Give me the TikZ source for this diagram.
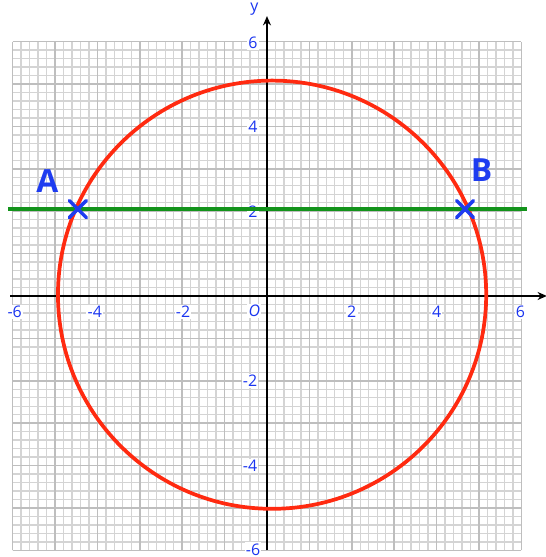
\documentclass[tikz,border=0pt]{standalone}
\usepackage{fontspec}
\setmainfont{Open Sans}
\usetikzlibrary{arrows.meta}
\definecolor{minorg}{HTML}{D4D4D4}
\definecolor{majorg}{HTML}{BEBEBE}
\definecolor{tickblue}{HTML}{1A35F0}
\definecolor{crossblue}{HTML}{1E3CF0}
\definecolor{circred}{HTML}{FF2A10}
\definecolor{linegreen}{HTML}{13931B}
\tikzset{
  ticklab/.style={text=tickblue, fill=white, inner sep=1pt, font=\fontsize{12}{12}\selectfont},
  ptlab/.style={text=crossblue, font=\fontsize{24}{24}\selectfont\bfseries},
  cross/.style={draw=crossblue, line width=2.6pt, line cap=round},
  axis/.style={draw=black, line width=1.1pt, -{Stealth[length=7pt,width=6pt]}}
}
\begin{document}
\begin{tikzpicture}[x=1.0cm,y=1.0cm,scale=1.1218]
\useasboundingbox (-6.297,-6.156) rectangle (6.58,6.981);
% grid
\draw[minorg, line width=1.0pt, step=0.2] (-6,-6) grid (6,6);
\draw[majorg, line width=1.3pt, step=1] (-6,-6) grid (6,6);
% axes
\coordinate (xs) at (-6.05,0);
\coordinate (xe) at (6.6,0);
\coordinate (ys) at (0,-6);
\coordinate (ye) at (0,6.6);
\draw[axis] (xs) -- (xe);
\draw[axis] (ys) -- (ye);
\node[text=tickblue, font=\fontsize{12}{12}\selectfont] (ylab) at (-0.3,6.76) {y};
\node[text=tickblue, font=\fontsize{12}{12}\selectfont] (xlab) at (6.68,-0.37) {x};
% tick labels
\node[ticklab] (x6m) at (-5.95,-0.38) {-6};
\node[ticklab] (x4m) at (-4.06,-0.38) {-4};
\node[ticklab] (x2m) at (-1.98,-0.38) {-2};
\node[ticklab] (o) at (-0.3,-0.36) {\itshape O};
\node[ticklab] (x2) at (2.0,-0.38) {2};
\node[ticklab] (x4) at (4.0,-0.38) {4};
\node[ticklab] (x6) at (5.98,-0.38) {6};
\node[ticklab] (y6) at (-0.33,5.98) {6};
\node[ticklab] (y4) at (-0.33,3.98) {4};
\node[ticklab] (y2) at (-0.33,1.98) {2};
\node[ticklab] (y2m) at (-0.4,-2.0) {-2};
\node[ticklab] (y4m) at (-0.4,-4.0) {-4};
\node[ticklab] (y6m) at (-0.33,-5.98) {-6};
% circle
\draw[circred, line width=2.8pt] (0.12,0.03) circle (5.05);
% line y=2
\coordinate (l1) at (-6.1,2.05);
\coordinate (l2) at (6.12,2.05);
\draw[linegreen, line width=2.8pt] (l1) -- (l2);
% crosses
\coordinate (A) at (-4.46,2.05);
\coordinate (B) at (4.67,2.05);
\draw[cross] ([shift={(-0.2,-0.2)}]A) -- ([shift={(0.2,0.2)}]A);
\draw[cross] ([shift={(-0.2,0.2)}]A) -- ([shift={(0.2,-0.2)}]A);
\draw[cross] ([shift={(-0.2,-0.2)}]B) -- ([shift={(0.2,0.2)}]B);
\draw[cross] ([shift={(-0.2,0.2)}]B) -- ([shift={(0.2,-0.2)}]B);
\node[ptlab] (Alab) at (-5.18,2.7) {A};
\node[ptlab] (Blab) at (5.06,2.98) {B};
\end{tikzpicture}
\end{document}
